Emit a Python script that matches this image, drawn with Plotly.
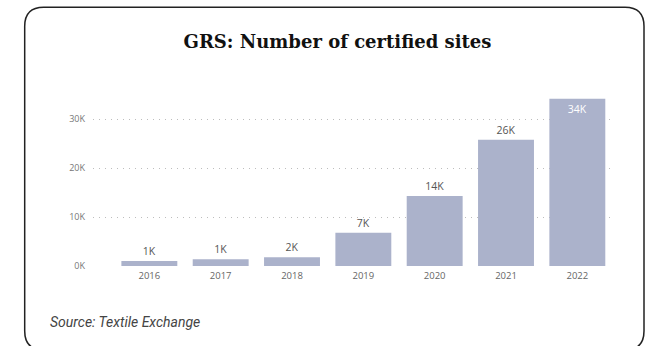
import plotly.graph_objects as go

years = ["2016", "2017", "2018", "2019", "2020", "2021", "2022"]
sites = [1000, 1400, 1800, 6800, 14300, 25800, 34200]
y_ticks = [0, 10000, 20000, 30000]
y_tick_labels = ["0K", "10K", "20K", "30K"]
title_text = "GRS: Number of certified sites"
source_text = "Source: Textile Exchange"

W, H = 651, 346
L, R, T, B = 93, 38, 90, 80
PW = W - L - R
PH = H - T - B


def px(x):
    return (x - L) / PW


def py(y):
    return (H - B - y) / PH


labels = [f"{round(v / 1000)}K" for v in sites]
positions = ["outside"] * (len(sites) - 1) + ["inside"]

fig = go.Figure(
    go.Bar(
        x=years,
        y=sites,
        marker=dict(color="#abb2cb", line=dict(width=0)),
        text=labels,
        textposition=positions,
        insidetextanchor="end",
        textangle=0,
        outsidetextfont=dict(family="Open Sans, sans-serif", size=10.5, color="#555555"),
        insidetextfont=dict(family="Open Sans, sans-serif", size=10.5, color="#ffffff"),
        cliponaxis=False,
        hoverinfo="skip",
    )
)

# rounded card border (pixel coordinates converted to paper)
x0, x1, y0, y1, r = 24.7, 644.0, 7.3, 350.0, 19
pts = [
    ("M", (x0 + r, y0)),
    ("L", (x1 - r, y0)),
    ("Q", (x1, y0), (x1, y0 + r)),
    ("L", (x1, y1 - r)),
    ("Q", (x1, y1), (x1 - r, y1)),
    ("L", (x0 + r, y1)),
    ("Q", (x0, y1), (x0, y1 - r)),
    ("L", (x0, y0 + r)),
    ("Q", (x0, y0), (x0 + r, y0)),
]
path = ""
for seg in pts:
    cmd = seg[0]
    coords = " ".join(f"{px(p[0]):.5f},{py(p[1]):.5f}" for p in seg[1:])
    path += f"{cmd} {coords} "
path += "Z"

fig.add_shape(
    type="path",
    path=path,
    xref="paper",
    yref="paper",
    line=dict(color="#222222", width=1.5),
    fillcolor="rgba(0,0,0,0)",
    layer="above",
)

fig.add_annotation(
    text=source_text,
    xref="paper",
    yref="paper",
    x=px(47.5),
    y=py(322),
    xanchor="left",
    yanchor="middle",
    showarrow=False,
    font=dict(family="Roboto, sans-serif", size=14, color="#444444", style="italic"),
)

fig.update_layout(
    width=W,
    height=H,
    margin=dict(l=L, r=R, t=T, b=B, pad=0),
    paper_bgcolor="#ffffff",
    plot_bgcolor="#ffffff",
    bargap=0.216,
    showlegend=False,
    title=dict(
        text=f"<b>{title_text}</b>",
        x=337.5 / W,
        xanchor="center",
        xref="container",
        y=1 - 41.5 / H,
        yref="container",
        yanchor="middle",
        font=dict(family="DejaVu Serif, serif", size=18, color="#111111"),
    ),
    xaxis=dict(
        type="category",
        range=[-0.79, 6.5],
        showgrid=False,
        showline=False,
        zeroline=False,
        ticks="",
        tickfont=dict(family="Open Sans, sans-serif", size=9.5, color="#666666"),
        ticklabelstandoff=2,
        fixedrange=True,
    ),
    yaxis=dict(
        range=[0, 36000],
        tickvals=y_ticks,
        ticktext=y_tick_labels,
        showgrid=True,
        gridcolor="#bdbdbd",
        griddash="1px,5px",
        gridwidth=1,
        zeroline=False,
        showline=False,
        ticks="",
        tickfont=dict(family="Open Sans, sans-serif", size=9, color="#777777"),
        ticklabelstandoff=7,
        fixedrange=True,
    ),
)

fig.write_html(
    "out.html",
    config={"displayModeBar": False, "staticPlot": True},
    post_script=(
        "document.documentElement.style.overflow='hidden';"
        "document.documentElement.style.margin='0';"
        "document.body.style.margin='0';"
        "document.body.style.overflow='hidden';"
    ),
)
